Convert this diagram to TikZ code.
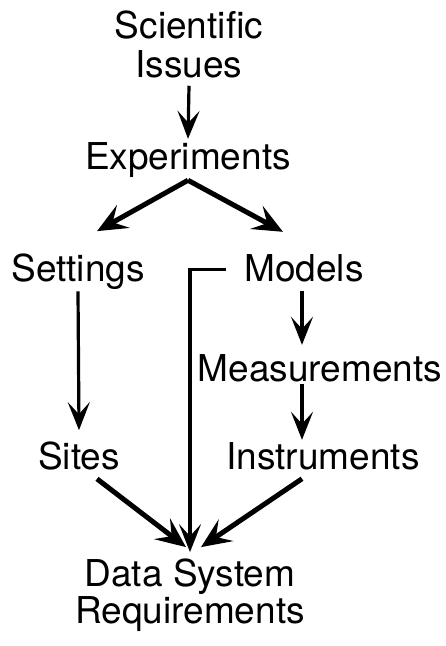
\documentclass[tikz,border=0pt]{standalone}
\usepackage{fontspec}
\setmainfont{TeX Gyre Heros}
\usetikzlibrary{arrows.meta, positioning}

\tikzset{
	box/.style = {font=\fontsize{37}{39}\selectfont, inner sep=0pt, anchor=base, align=center},
	arr/.style = {-{Stealth[length=28pt, width=22pt, inset=12pt]}, line width=3.2pt},
	fat/.style = {-{Stealth[length=30pt, width=26pt, inset=12pt]}, line width=5pt}
}

\begin{document}
\begin{tikzpicture}[x=1pt, y=1pt]

\useasboundingbox (0,0) rectangle (445,646);

% base anchor sits on the last line
\node[box]	(sci)	at (189,568)	{Scientific\\Issues};
\node[box]	(exp)	at (188,476)	{Experiments};
\node[box]	(set)	at (78,364)		{Settings};
\node[box]	(mod)	at (304,364)	{Models};
\node[box]	(meas)	at (320,264)	{Measurements};
\node[box]	(sit)	at (79,176)		{Sites};
\node[box]	(ins)	at (323,176)	{Instruments};
\node[box, font=\fontsize{37}{28}\selectfont]	(dsr)	at (190,23)	{Data System\\Requirements};

\draw[arr]	([yshift=-7pt]sci.south)	--	([yshift=4pt]exp.north);
\draw[fat]	([yshift=-2pt]exp.south)	--	([xshift=19pt,yshift=23pt]set.north);
\draw[fat]	([yshift=-2pt]exp.south)	--	([xshift=-21pt,yshift=23pt]mod.north);
\draw[arr]	([yshift=-1pt]set.south)	--	([yshift=12pt]sit.north);
\draw[arr]	([xshift=-2pt,yshift=-8pt]mod.south)	--	([xshift=-18pt,yshift=10pt]meas.north);
\draw[arr]	([xshift=-18pt,yshift=-1pt]meas.south)	--	([xshift=-21pt,yshift=3pt]ins.north);
\draw[arr]	([xshift=-18pt,yshift=-1pt]mod.west)	-|	([xshift=0pt,yshift=7pt]dsr.north);
\draw[fat]	([xshift=18pt,yshift=-8pt]sit.south)	--	([xshift=-4pt,yshift=12pt]dsr.north);
\draw[fat]	([xshift=-21pt,yshift=-8pt]ins.south)	--	([xshift=11pt,yshift=12pt]dsr.north);

\end{tikzpicture}
\end{document}
